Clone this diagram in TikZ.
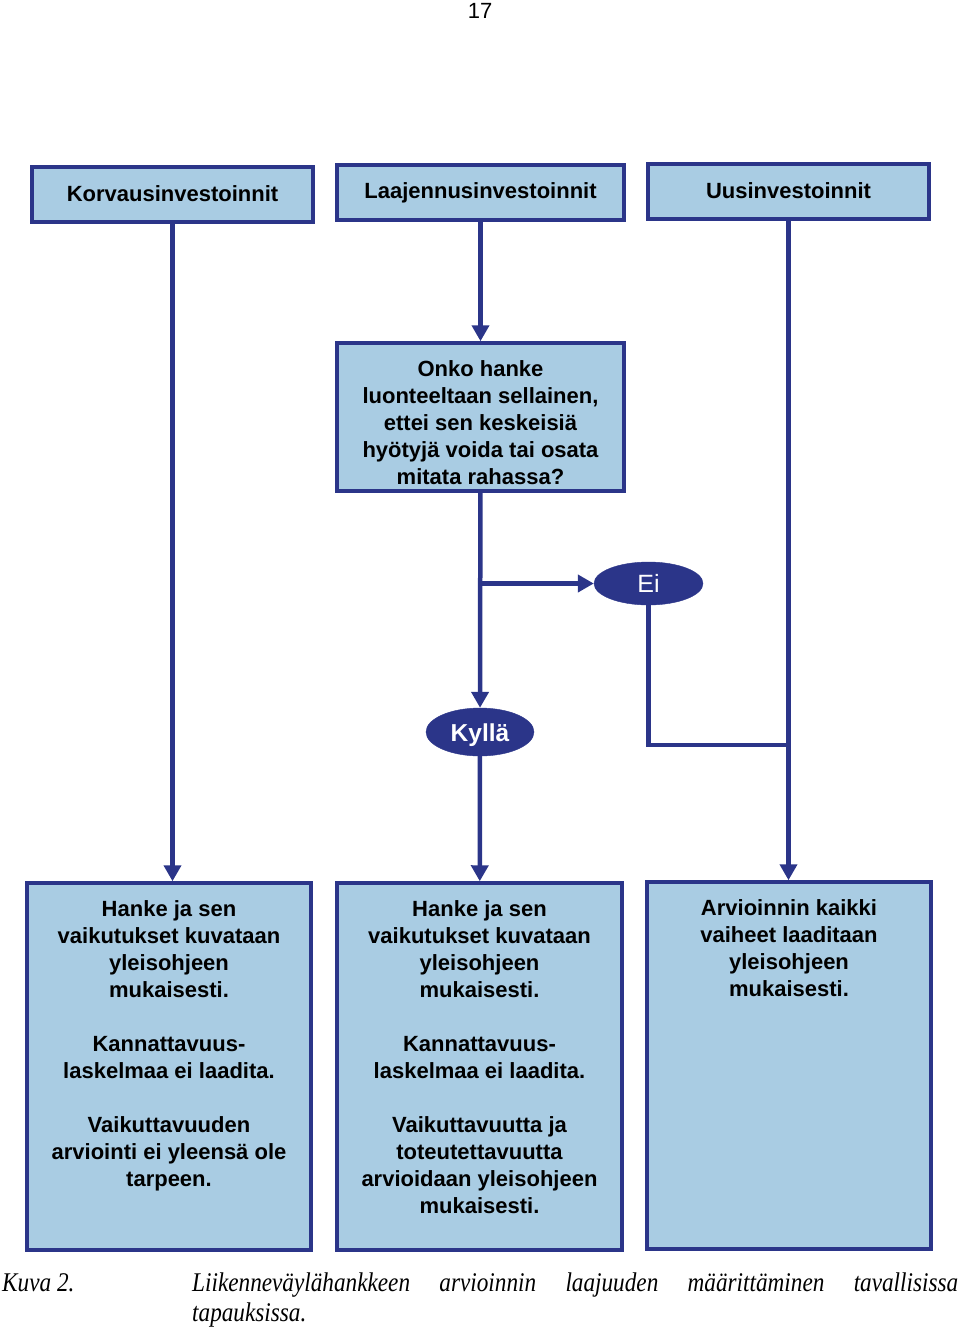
\documentclass[tikz,border=0pt]{standalone}
\usepackage{fontspec}
\setmainfont{Liberation Sans}
\newfontfamily\capfont[FakeStretch=0.86]{Liberation Serif}
\usetikzlibrary{arrows.meta,shapes.geometric}

\definecolor{navy}{HTML}{2B3589}
\definecolor{boxblue}{HTML}{A9CCE3}

\begin{document}
\begin{tikzpicture}[x=1pt, y=-1pt,
    every node/.style={font=\fontsize{22}{27}\selectfont\bfseries},
    box/.style={draw=navy, fill=boxblue, line width=3.5pt, inner sep=0pt, align=center},
    oval/.style={draw=navy, fill=navy, ellipse, text=white, inner sep=0pt, text height=18pt, text depth=0pt},
    link/.style={draw=navy, line width=4.5pt},
    arr/.style={link, -{Triangle[length=16pt, width=17pt]}}]
    \useasboundingbox (0,0) rectangle (960,1328);

    \node[font=\fontsize{22}{27}\selectfont] (sivu) at (480,11) {17};

    \node[box, minimum width=281, minimum height=55] (korv) at (172.5,194.5) {\raisebox{1.5pt}{Korvausinvestoinnit}};
    \node[box, minimum width=287, minimum height=55] (laaj) at (480.5,192.5) {Laajennusinvestoinnit};
    \node[box, minimum width=281, minimum height=55] (uusi) at (788.5,191.5) {\raisebox{1.5pt}{Uusinvestoinnit}};

    \node[box, minimum width=287, minimum height=148] (kysy) at (480.5,417)
        {\parbox[c][118pt][t]{276pt}{\centering\strut Onko hanke\\ luonteeltaan sellainen,\\ ettei sen keskeisiä\\ hyötyjä voida tai osata\\ mitata rahassa?}};

    \node[oval, minimum width=109, minimum height=43, font=\fontsize{25}{27}\selectfont] (ei) at (648.5,583.5) {Ei};
    \node[oval, minimum width=108, minimum height=48, font=\fontsize{24.5}{27}\selectfont\bfseries] (kylla) at (480,732) {Kyllä};

    \node[box, minimum width=284, minimum height=367] (b1) at (169,1066.5)
        {\parbox[c][337pt][t]{276pt}{\centering\strut Hanke ja sen\\ vaikutukset kuvataan\\ yleisohjeen\\ mukaisesti.\\[27pt]
        Kannattavuus-\\ laskelmaa ei laadita.\\[27pt] Vaikuttavuuden\\ arviointi ei yleensä ole\\ tarpeen.}};
    \node[box, minimum width=285, minimum height=367] (b2) at (479.5,1066.5)
        {\parbox[c][337pt][t]{276pt}{\centering\strut Hanke ja sen\\ vaikutukset kuvataan\\ yleisohjeen\\ mukaisesti.\\[27pt]
        Kannattavuus-\\ laskelmaa ei laadita.\\[27pt] Vaikuttavuutta ja\\ toteutettavuutta\\ arvioidaan yleisohjeen\\ mukaisesti.}};
    \node[box, minimum width=284, minimum height=367] (b3) at (789,1065.5)
        {\parbox[c][337pt][t]{276pt}{\centering\strut Arvioinnin kaikki\\ vaiheet laaditaan\\ yleisohjeen\\ mukaisesti.}};

    \coordinate (haara) at (kysy.south |- ei.west);
    \coordinate (liitos) at (uusi.south |- 0,745);

    \draw[arr] (korv.south) -- (korv.south |- b1.north);
    \draw[arr] (laaj) -- (kysy);
    \draw[arr] (kysy) -- (kylla);
    \draw[arr] (haara) -- (ei);
    \draw[arr] (kylla) -- (b2);
    \draw[arr] (uusi.south) -- (uusi.south |- b3.north);
    \draw[link] (ei) |- (liitos);

    \node[anchor=base west, inner sep=0pt, font=\capfont\itshape\fontsize{27}{30}\selectfont] (kuva) at (2,1291) {Kuva 2.};
    \node[anchor=base west, inner sep=0pt, font=\capfont\itshape\fontsize{27}{30}\selectfont] (otsikko) at (192,1291)
        {\parbox[t]{766pt}{Liikenneväylähankkeen arvioinnin laajuuden määrittäminen tavallisissa\linebreak tapauksissa.}};
\end{tikzpicture}
\end{document}
